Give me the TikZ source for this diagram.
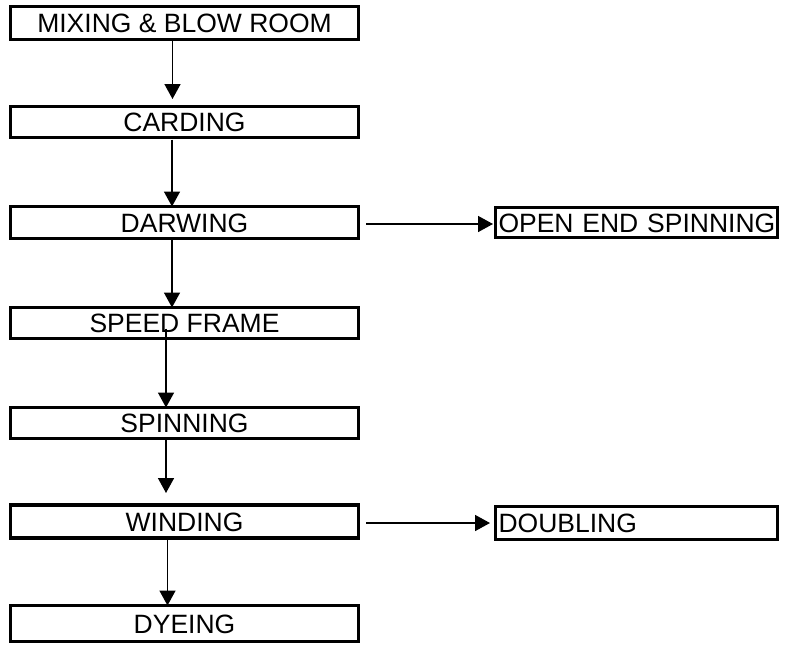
\documentclass[tikz,border=0pt]{standalone}
\usepackage{fontspec}
\setmainfont{Liberation Sans}
\usetikzlibrary{arrows.meta}
\begin{document}
\begin{tikzpicture}[x=1pt,y=-1pt,
  stage/.style={draw, line width=3.2pt, outer sep=0pt, inner sep=0pt,
    minimum width=348pt, text height=19pt, text depth=0pt,
    font=\fontsize{26.5}{30}\selectfont},
  sidebox/.style={draw, line width=3.2pt, outer sep=0pt, inner ysep=0pt,
    inner xsep=3pt, minimum width=282pt, text width=276pt, align=left,
    text height=19pt, text depth=0pt,
    font=\fontsize{26.5}{30}\selectfont},
  flow/.style={line width=1.6pt, -{Triangle[length=15pt,width=16pt]}}]
\useasboundingbox (0,0) rectangle (791,645);
\fill[white] (0,0) rectangle (791,645);

% main process column
\node[stage, minimum height=33pt] (mix)   at (184.5,23)    {MIXING \& BLOW ROOM};
\node[stage, minimum height=31pt] (card)  at (184.5,122)   {CARDING};
\node[stage, minimum height=32pt] (darw)  at (184.5,222.5) {DARWING};
\node[stage, minimum height=31pt] (speed) at (184.5,323)   {SPEED FRAME};
\node[stage, minimum height=31pt] (spin)  at (184.5,423)   {SPINNING};
\node[stage, minimum height=33pt] (wind)  at (184.5,521.5) {WINDING};
\node[stage, minimum height=36pt] (dye)   at (184.5,623.5) {DYEING};

% side branches
\node[sidebox, minimum height=30pt] (open) at (636.5,222.5) {\mbox{OPEN END SPINNING}};
\node[sidebox, minimum height=33pt] (doub) at (636.5,523)   {DOUBLING};

% vertical connectors (yshift is in page direction: positive is up)
\draw[flow] ([xshift=-12pt,yshift=-1.5pt]mix.south) -- ([xshift=-12pt,yshift=7.5pt]card.north);
\draw[flow] ([xshift=-12.5pt,yshift=-2pt]card.south) -- ([xshift=-12.5pt]darw.north);
\draw[flow] ([xshift=-12.5pt]darw.south) -- ([xshift=-12.5pt]speed.north);
\draw[flow] ([xshift=-18.5pt,yshift=10pt]speed.south) -- ([xshift=-18.5pt]spin.north);
\draw[flow] ([xshift=-18.5pt]spin.south) -- ([xshift=-18.5pt,yshift=12pt]wind.north);
\draw[flow] ([xshift=-17pt]wind.south) -- ([xshift=-17pt]dye.north);

% horizontal connectors
\draw[flow] ([xshift=7.5pt,yshift=-1.5pt]darw.east) -- ([xshift=-2.5pt,yshift=-1.5pt]open.west);
\draw[flow] ([xshift=7.5pt]wind.east |- doub.west) -- ([xshift=-5.5pt]doub.west);
\end{tikzpicture}
\end{document}
